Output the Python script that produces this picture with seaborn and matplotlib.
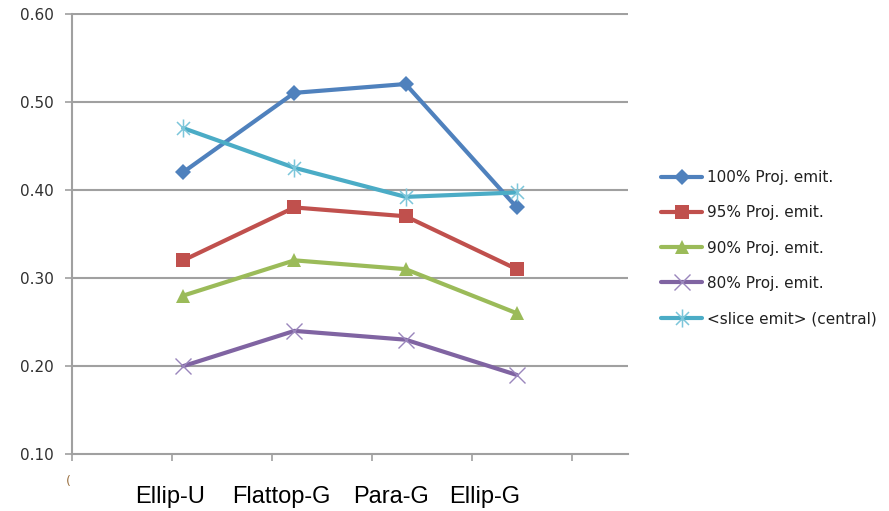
import numpy as np
import pandas as pd
import matplotlib
matplotlib.use("Agg")
import matplotlib.pyplot as plt
from matplotlib.path import Path
import seaborn as sns

# ---- data ----
categories = ["Ellip-U", "Flattop-G", "Para-G", "Ellip-G"]
proj_100 = [0.42, 0.51, 0.52, 0.38]
proj_95 = [0.32, 0.38, 0.37, 0.31]
proj_90 = [0.28, 0.32, 0.31, 0.26]
proj_80 = [0.20, 0.24, 0.23, 0.19]
slice_central = [0.47, 0.425, 0.392, 0.397]
series_names = ["100% Proj. emit.", "95% Proj. emit.", "90% Proj. emit.",
                "80% Proj. emit.", "<slice emit> (central)"]
yticks = [0.10, 0.20, 0.30, 0.40, 0.50, 0.60]

series_values = [proj_100, proj_95, proj_90, proj_80, slice_central]
xpos = np.arange(len(categories))
df = pd.DataFrame({
    "x": np.tile(xpos, len(series_names)),
    "value": np.concatenate(series_values),
    "series": np.repeat(series_names, len(categories)),
})

# ---- styling ----
sns.set_theme(style="white")
plt.rcParams["font.family"] = ["DejaVu Sans"]

line_colors = ["#4F81BD", "#C0504D", "#9BBB59", "#8064A2", "#4BACC6"]
marker_faces = ["#4F81BD", "#C0504D", "#9BBB59", "#9A86BC", "#7CC6DA"]
asterisk = Path(
    [(0, -1), (0, 1), (-0.72, -0.72), (0.72, 0.72), (-0.72, 0.72), (0.72, -0.72)],
    [Path.MOVETO, Path.LINETO, Path.MOVETO, Path.LINETO, Path.MOVETO, Path.LINETO],
)
markers = ["D", "s", "^", "x", asterisk]
msizes = [8, 9.5, 10, 11, 13]
medge = [0, 0, 0, 1.0, 1.1]

fig = plt.figure(figsize=(8.89, 5.11), dpi=100)
ax = fig.add_axes([72 / 889, 1 - 454.3 / 511, (628 - 72) / 889, (454.3 - 13.5) / 511])

for i, name in enumerate(series_names):
    sub = df[df["series"] == name]
    mk = markers[i]
    filled = i < 3
    sns.lineplot(
        data=sub, x="x", y="value", ax=ax, color=line_colors[i],
        linewidth=3.0, marker=mk, markersize=msizes[i],
        markerfacecolor=marker_faces[i] if filled else "none",
        markeredgecolor=marker_faces[i], markeredgewidth=medge[i],
        label=name, zorder=3 + i,
    )

ax.set_xlim(-1.0, 4.0)
ax.set_ylim(0.10, 0.60)
ax.set_xlabel("")
ax.set_ylabel("")

# y axis
ax.set_yticks(yticks)
ax.set_yticklabels([f"{v:.2f}" for v in yticks], fontsize=11, color="#303030")
ax.tick_params(axis="y", which="major", direction="out", length=5, width=1.2,
               color="#A0A0A0", pad=8, left=True)
for v in yticks[1:]:
    ax.axhline(v, color="#A0A0A0", linewidth=1.5, zorder=1)

# x axis: tick marks between positions, category labels below
label_pos = [-0.117, 0.88, 1.87, 2.71]
ax.set_xticks(label_pos)
ax.set_xticklabels(categories, fontsize=17, color="black",
                   fontfamily="Liberation Sans")
ax.tick_params(axis="x", which="major", length=0, pad=23)
ax.set_xticks(np.arange(-1.0, 4.0, 0.9), minor=True)
ax.tick_params(axis="x", which="minor", direction="out", length=5, width=1.2,
               color="#A0A0A0", bottom=True)

for s in ["top", "right"]:
    ax.spines[s].set_visible(False)
for s in ["left", "bottom"]:
    ax.spines[s].set_color("#A0A0A0")
    ax.spines[s].set_linewidth(1.5)
ax.grid(False)

fig.text(68 / 889, 1 - 481 / 511, "(", fontsize=9, color="#9a7040",
         ha="center", va="center")

leg = ax.legend(
    loc="center left", bbox_to_anchor=(661 / 889, 1 - 248 / 511),
    bbox_transform=fig.transFigure, frameon=False, fontsize=11,
    handlelength=2.7, handletextpad=0.3, labelspacing=1.33,
    borderpad=0, borderaxespad=0,
)
for t in leg.get_texts():
    t.set_color("#202020")

fig.savefig("out.png", dpi=100)
